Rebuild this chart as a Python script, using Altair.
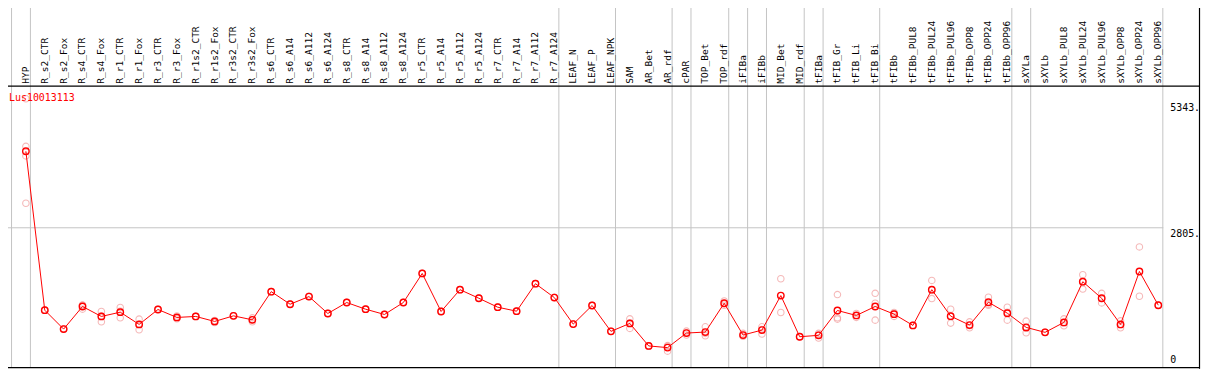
import altair as alt
import pandas as pd

samples = ["HYP", "R_s2_CTR", "R_s2_Fox", "R_s4_CTR", "R_s4_Fox", "R_r1_CTR", "R_r1_Fox",
           "R_r3_CTR", "R_r3_Fox", "R_r1s2_CTR", "R_r1s2_Fox", "R_r3s2_CTR", "R_r3s2_Fox",
           "R_s6_CTR", "R_s6_A14", "R_s6_A112", "R_s6_A124", "R_s8_CTR", "R_s8_A14",
           "R_s8_A112", "R_s8_A124", "R_r5_CTR", "R_r5_A14", "R_r5_A112", "R_r5_A124",
           "R_r7_CTR", "R_r7_A14", "R_r7_A112", "R_r7_A124", "LEAF_N", "LEAF_P", "LEAF_NPK",
           "SAM", "AR_Bet", "AR_rdf", "cPAR", "TOP_Bet", "TOP_rdf", "iFIBa", "iFIBb",
           "MID_Bet", "MID_rdf", "tFIBa", "tFIB_Gr", "tFIB_Li", "tFIB_Bi", "tFIBb",
           "tFIBb_PUL8", "tFIBb_PUL24", "tFIBb_PUL96", "tFIBb_OPP8", "tFIBb_OPP24",
           "tFIBb_OPP96", "sXYLa", "sXYLb", "sXYLb_PUL8", "sXYLb_PUL24", "sXYLb_PUL96",
           "sXYLb_OPP8", "sXYLb_OPP24", "sXYLb_OPP96"]

means = [4344, 1147, 767, 1221, 1021, 1107, 861, 1161, 1001, 1021, 921, 1033, 953,
         1520, 1267, 1421, 1081, 1301, 1167, 1061, 1301, 1886, 1121, 1560, 1387,
         1207, 1127, 1680, 1401, 867, 1241, 721, 881, 428, 394, 687, 707, 1287, 647, 747,
         1441, 613, 641, 1141, 1041, 1221, 1067, 841, 1560, 1027, 847, 1307, 1087,
         801, 701, 901, 1720, 1387, 861, 1926, 1247]

replicates = [
    [5400, 4444, 4250, 3299], [1147, 1150], [767, 770], [1247, 1167, 1250],
    [1121, 913, 1030], [1201, 993, 1127], [967, 753, 863], [1161, 1165],
    [1030, 975, 1001], [1021, 1025], [940, 900, 921], [1033, 1035], [993, 913, 953],
    [1520, 1522], [1267, 1270], [1421, 1425], [1081, 1085], [1301, 1305], [1167, 1170],
    [1061, 1065], [1301, 1305], [1886, 1890], [1121, 1125], [1560, 1565], [1387, 1390],
    [1207, 1210], [1127, 1130], [1680, 1685], [1401, 1405], [867, 870], [1241, 1245],
    [721, 725], [973, 781, 890], [428, 430], [434, 322, 420], [727, 647, 690],
    [813, 633, 680], [1333, 1247, 1280], [681, 621, 640], [813, 667, 760],
    [1780, 1101], [613, 615], [681, 587, 655], [1461, 993, 967], [1081, 1001, 1041],
    [1486, 1287, 947], [1101, 1021, 1080], [841, 845], [1746, 1381, 1553],
    [1167, 887, 1027], [913, 793, 835], [1407, 1247, 1267], [1207, 947, 1107],
    [927, 693, 783], [701, 705], [973, 833, 897], [1860, 1572, 1728], [1486, 1293, 1382],
    [933, 793, 857], [2420, 1427], [1247, 1250]]

group_sizes = [1, 28, 3, 3, 1, 2, 1, 1, 2, 1, 3, 7, 1, 7]

axis_values = [5343, 2805]
axis_labels = ["5343.", "2805."]
zero_label = "0"
gene = "Lus10013113"

W, H = 1209, 370
RED = "#ff0000"
PINK = "#f29c9c"
GRID = "#c4c4c4"
FONT = "DejaVu Sans Mono"

xscale = alt.Scale(domain=[-0.3684, 63.2632], nice=False, zero=False)
yscale = alt.Scale(domain=[-32, 7362], nice=False, zero=False)

idx = list(range(1, len(samples) + 1))
df_mean = pd.DataFrame({"i": idx, "sample": samples, "v": means})
rows = []
for i, reps in zip(idx, replicates):
    for r in reps:
        rows.append({"i": i, "v": r})
df_rep = pd.DataFrame(rows)

bounds = [0]
for g in group_sizes:
    bounds.append(bounds[-1] + g)
df_bounds = pd.DataFrame({"b": [b + 0.24 for b in bounds]})

X = lambda f: alt.X(f, type="quantitative", scale=xscale, axis=None)
Y = lambda f: alt.Y(f, type="quantitative", scale=yscale, axis=None)

vlines = alt.Chart(df_bounds).mark_rule(color=GRID, strokeWidth=1).encode(
    x=X("b"), y=alt.value(0), y2=alt.value(369))

hgrid = alt.Chart(pd.DataFrame({"v": [axis_values[1]]})).mark_rule(
    color=GRID, strokeWidth=1).encode(
    x=alt.value(0), x2=alt.value(1171), y=Y("v"))

one = pd.DataFrame({"k": [0]})
def hrule(yv):
    return alt.Chart(one).mark_rule(color="black", strokeWidth=1.2).encode(
        x=alt.value(0), x2=alt.value(1208), y=alt.value(yv))
def vrule(xv):
    return alt.Chart(one).mark_rule(color="black", strokeWidth=1.2).encode(
        x=alt.value(xv), y=alt.value(0), y2=alt.value(370))

frames = [hrule(0.5), hrule(85.5), hrule(368.8), vrule(1), vrule(1207.5)]

labels = alt.Chart(df_mean).mark_text(
    angle=270, align="left", baseline="middle", font=FONT, fontSize=9.6, color="black"
).encode(x=X("i"), y=alt.value(83), text="sample:N")

reps_layer = alt.Chart(df_rep).mark_point(
    shape="circle", filled=False, color=PINK, strokeWidth=1.1, size=42
).encode(x=X("i"), y=Y("v"))

line = alt.Chart(df_mean).mark_line(color=RED, strokeWidth=1).encode(x=X("i"), y=Y("v"))

mean_pts = alt.Chart(df_mean).mark_point(
    shape="circle", filled=False, color=RED, strokeWidth=1.4, size=42, opacity=1
).encode(x=X("i"), y=Y("v"))

ylabels = alt.Chart(pd.DataFrame({"v": axis_values, "t": axis_labels})).mark_text(
    align="left", baseline="top", dy=1, font=FONT, fontSize=10, color="black"
).encode(x=alt.value(1178), y=Y("v"), text="t:N")

zlabel = alt.Chart(pd.DataFrame({"v": [0], "t": [zero_label]})).mark_text(
    align="left", baseline="bottom", dy=-2, font=FONT, fontSize=10, color="black"
).encode(x=alt.value(1178), y=Y("v"), text="t:N")

title = alt.Chart(pd.DataFrame({"t": [gene]})).mark_text(
    align="left", baseline="top", font=FONT, fontSize=10, color=RED
).encode(x=alt.value(9), y=alt.value(92), text="t:N")

chart = alt.layer(
    vlines, hgrid, *frames, labels, reps_layer, line, mean_pts,
    ylabels, zlabel, title
).properties(
    width=W, height=H,
    autosize=alt.AutoSizeParams(type="none"),
    padding={"left": -8, "top": -8, "right": 0, "bottom": 0},
    background="white",
).configure_view(stroke=None)

chart.save("out.html", embed_options={"renderer": "svg", "actions": False})
